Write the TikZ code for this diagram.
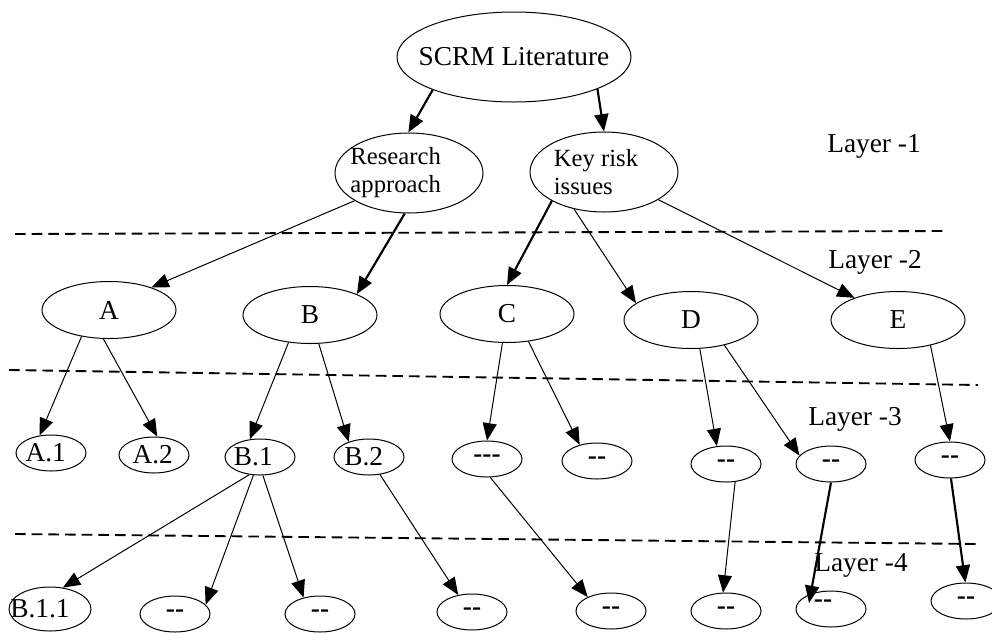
\documentclass[tikz,border=0pt]{standalone}
\usepackage{fontspec}
\setmainfont{Liberation Serif}
\usetikzlibrary{shapes.geometric, arrows.meta}

\begin{document}
\begin{tikzpicture}
      [x=0.75pt, y=-0.75pt, font=\fontsize{20.5}{22}\selectfont,
       oval/.style={draw, ellipse, line width=0.75pt, inner sep=0pt},
       rootoval/.style={oval, minimum width=175.5pt, minimum height=67.5pt},
       twoline/.style={oval, minimum width=111pt, minimum height=60pt},
       layertwo/.style={oval, minimum width=100.5pt, minimum height=42.75pt},
       leaf/.style={oval, minimum width=52.5pt, minimum height=27pt},
       dashleaf/.style={leaf, label={center:\textbf{-{}-}}},
       arr/.style={-{Triangle[length=13pt, width=10.5pt]}, line width=0.75pt},
       arrthick/.style={arr, line width=1.6pt},
       divider/.style={dash pattern=on 8pt off 4.5pt, line width=1.4pt}]

      \useasboundingbox (0,0) rectangle (992,632);

      %nodes
      \node[rootoval, label=center:SCRM Literature] (scrm) at (514,57) {};
      \node[twoline, label={[align=left, font=\fontsize{18.5}{21}\selectfont, xshift=-10pt]center:Research\\approach}] (ra) at (409,173) {};
      \node[twoline, label={[align=left, font=\fontsize{18.5}{21}\selectfont, xshift=-6pt]center:Key risk\\issues}] (kri) at (604,172) {};

      \node[layertwo, label=center:A] (a) at (109,310) {};
      \node[layertwo, label=center:B] (b) at (310,315) {};
      \node[layertwo, label=center:C] (c) at (507,314) {};
      \node[layertwo, label=center:D] (d) at (691,320) {};
      \node[layertwo, label=center:E] (e) at (898,320) {};

      \node[leaf, label={[xshift=-4pt]center:A.1}] (a1) at (51,453) {};
      \node[leaf, label={[xshift=-1pt]center:A.2}] (a2) at (154,455) {};
      \node[leaf, label={[xshift=-5pt]center:B.1}] (b1) at (260,457) {};
      \node[leaf, label={[xshift=-4pt]center:B.2}] (b2) at (369,457) {};
      \node[leaf, label={center:\textbf{-{}-{}-}}] (c1) at (487,459) {};
      \node[dashleaf] (c2) at (597,461) {};
      \node[dashleaf] (d1) at (726,464) {};
      \node[dashleaf] (d2) at (831,464) {};
      \node[dashleaf] (e1) at (950,460) {};

      \node[oval, minimum width=61.5pt, minimum height=33pt, label={[xshift=-7.5pt]center:B.1.1}] (b11) at (50,609) {};
      \node[dashleaf] (b12) at (175,614) {};
      \node[dashleaf] (b13) at (320,614) {};
      \node[dashleaf] (b21) at (472,612) {};
      \node[dashleaf] (c11) at (611,611) {};
      \node[dashleaf] (d11) at (726,611) {};
      \node[leaf, label={[xshift=-6pt, yshift=4pt]center:\textbf{-{}-}}] (d21) at (831,609) {};
      \node[dashleaf] (e11) at (966,601) {};

      \node (l1) at (874,146) {Layer -1};
      \node (l2) at (875,262) {Layer -2};
      \node (l3) at (855,419) {Layer -3};
      \node (l4) at (861,565) {Layer -4};

      % layer lines %
      \draw[divider] (15,234) -- (947,231);
      \draw[divider] (9,370) -- (978,385);
      \draw[divider] (15,534) -- (976,544);

      % edges %
      \draw[arrthick] (scrm.202) -- (ra.91);
      \draw[arrthick] (scrm.-21) -- (kri.90);
      \draw[arr] (ra.-153) -- (a.28);
      \draw[arrthick] (ra.-96) -- (b.24);
      \draw[arrthick] (kri.-151) -- (c.90);
      \draw[arr] (kri.-129) -- (d.163);
      \draw[arr] (kri.-27) -- (e.153);

      \draw[arr] (a.-136) -- (a1.123);
      \draw[arr] (a.-101) -- (a2.80);
      \draw[arr] (b.-128) -- (b1.120);
      \draw[arr] (b.-73) -- (b2.143);
      \draw[arr] (c.-99) -- (c1.90);
      \draw[arr] (c.-52) -- (c2.137);
      \draw[arr] (d.-73) -- (d1.117);
      \draw[arr] (d.-37) -- (d2.165);
      \draw[arr] (e.-38) -- (e1.90);

      \draw[arr] (b1.-121) -- (b11.59);
      \draw[arr] (b1.-110) -- (b12.17);
      \draw[arr] (b1.-81) -- (b13.135);
      \draw[arr] (b2.-58) -- (b21.129);
      \draw[arr] (c1.-80) -- (c11.149);
      \draw[arr] (d1.-63) -- (d11.99);
      \draw[arrthick] (d2.-90) -- ([shift={(-22,-6)}]d21.center);
      \draw[arrthick] (e1.-87) -- (e11.92);
\end{tikzpicture}
\end{document}
